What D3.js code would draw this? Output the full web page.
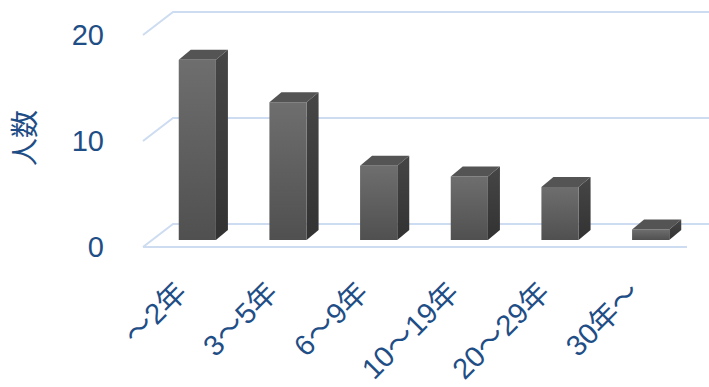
<!DOCTYPE html>
<html><head><meta charset="utf-8">
<script src="https://cdn.jsdelivr.net/npm/d3@7/dist/d3.min.js"></script>
<style>html,body{margin:0;padding:0;background:#fff;}svg{display:block;}</style>
</head><body>
<svg id="chart" width="709" height="387"></svg>
<script>
const categories = ["～2年", "3～5年", "6～9年", "10～19年", "20～29年", "30年～"];
const values = [17, 13, 7, 6, 5, 1];
const yTicks = [0, 10, 20];
const yTitle = "人数";

const svg = d3.select("#chart");
const W = 709, H = 387;
const left = 143, right = 687, floorY = 247, topY = 35;
const depthX = 30, depthY = -23;        // floor depth offset
const barShiftX = 9, barShiftY = -7;    // bar front plane offset
const barDX = 12, barDY = -10;          // bar depth
const blue = "#1f4e86", grid = "#cddcf1";

const x = d3.scaleBand().domain(categories).range([left, right]).padding(0);
const y = d3.scaleLinear().domain([0, 20]).range([floorY, topY]);

const defs = svg.append("defs");
const gf = defs.append("linearGradient").attr("id", "gFront").attr("x1", 0).attr("y1", 0).attr("x2", 0).attr("y2", 1);
gf.append("stop").attr("offset", "0%").attr("stop-color", "#6e6e6e");
gf.append("stop").attr("offset", "100%").attr("stop-color", "#505050");
const gs = defs.append("linearGradient").attr("id", "gSide").attr("x1", 0).attr("y1", 0).attr("x2", 0).attr("y2", 1);
gs.append("stop").attr("offset", "0%").attr("stop-color", "#464646");
gs.append("stop").attr("offset", "100%").attr("stop-color", "#323232");

// gridlines
const g = svg.append("g");
yTicks.forEach(t => {
  const yf = y(t);
  g.append("path")
    .attr("d", `M${left},${yf} L${left + depthX},${yf + depthY} L${W + 20},${yf + depthY}`)
    .attr("fill", "none").attr("stroke", grid).attr("stroke-width", 2);
});
g.append("line").attr("x1", left).attr("x2", right).attr("y1", floorY).attr("y2", floorY)
  .attr("stroke", grid).attr("stroke-width", 2);

// y tick labels
svg.append("g").selectAll("text").data(yTicks).join("text")
  .attr("x", 104).attr("y", d => y(d)).attr("dy", "0.36em")
  .attr("text-anchor", "end")
  .attr("font-family", "'Liberation Sans', Arial, sans-serif")
  .attr("font-size", 29).attr("fill", blue).text(d => d);

// y title
svg.append("text")
  .attr("transform", "translate(25,138) rotate(-90)")
  .attr("text-anchor", "middle").attr("dy", "0.36em")
  .attr("font-family", "'Noto Sans CJK JP', sans-serif")
  .attr("font-size", 28).attr("fill", blue).text(yTitle);

// bars
const bw = x.bandwidth() * 0.41;
const bars = svg.append("g").selectAll("g").data(categories.map((c, i) => ({c, v: values[i]}))).join("g");
bars.each(function(d) {
  const gg = d3.select(this);
  const x0 = x(d.c) + (x.bandwidth() - bw) / 2 + barShiftX;
  const x1 = x0 + bw;
  const yb = y(0) + barShiftY;
  const yt = y(d.v) + barShiftY;
  gg.append("path")
    .attr("d", `M${x1},${yt} L${x1 + barDX},${yt + barDY} L${x1 + barDX},${yb + barDY} L${x1},${yb} Z`)
    .attr("fill", "url(#gSide)");
  gg.append("path")
    .attr("d", `M${x0},${yt} L${x0 + barDX},${yt + barDY} L${x1 + barDX},${yt + barDY} L${x1},${yt} Z`)
    .attr("fill", "#545454");
  gg.append("rect").attr("x", x0).attr("y", yt).attr("width", bw).attr("height", yb - yt)
    .attr("fill", "url(#gFront)");
});

// x labels
svg.append("g").selectAll("text").data(categories).join("text")
  .attr("transform", d => `translate(${x(d) + x.bandwidth() / 2 - 7},287) rotate(-45)`)
  .attr("text-anchor", "end").attr("dy", "0.35em")
  .attr("font-family", "'Liberation Sans', 'Noto Sans CJK JP', sans-serif")
  .attr("font-size", 29).attr("fill", blue).text(d => d);
</script>
</body></html>
